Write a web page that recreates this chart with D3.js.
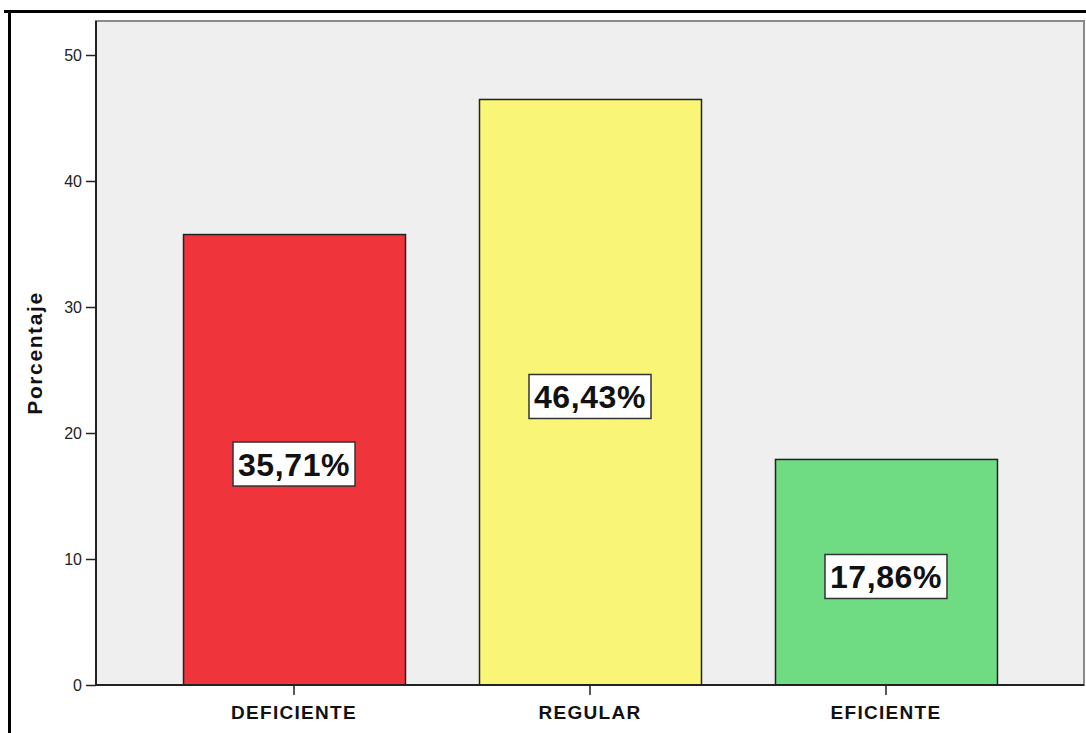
<!DOCTYPE html>
<html><head><meta charset="utf-8">
<script src="https://cdn.jsdelivr.net/npm/d3@7"></script>
<style>body{margin:0;background:#fff;} svg{display:block;}</style>
</head><body>
<svg id="chart" width="1086" height="733"></svg>
<script>
const categories = ["DEFICIENTE", "REGULAR", "EFICIENTE"];
const values = [35.71, 46.43, 17.86];
const labels = ["35,71%", "46,43%", "17,86%"];
const colors = ["#f0343b", "#f9f677", "#6fdc83"];
const yTicks = [0, 10, 20, 30, 40, 50];
const yTitle = "Porcentaje";

const svg = d3.select("#chart");
const W = 1086, H = 733;
const plot = {left: 96, right: 1084, top: 21, bottom: 685};

// outer frame (top + left black)
svg.append("line").attr("x1", 4).attr("x2", W).attr("y1", 11.5).attr("y2", 11.5).attr("stroke", "#000").attr("stroke-width", 3);
svg.append("line").attr("x1", 9.5).attr("x2", 9.5).attr("y1", 10).attr("y2", H).attr("stroke", "#000").attr("stroke-width", 3);

const x = d3.scaleBand().domain(categories).range([plot.left, plot.right]).paddingInner(0.25).paddingOuter(0.294);
const y = d3.scaleLinear().domain([0, 50]).range([plot.bottom, plot.bottom - 630]);

// plot background
svg.append("rect").attr("x", plot.left).attr("y", plot.top).attr("width", plot.right - plot.left).attr("height", plot.bottom - plot.top)
  .attr("fill", "#efefef").attr("stroke", "#8a8a8a").attr("stroke-width", 2);

// bars
svg.selectAll("rect.bar").data(values).enter().append("rect").attr("class", "bar")
  .attr("x", (d, i) => x(categories[i]) + 0.5)
  .attr("y", d => y(d) - 0.5)
  .attr("width", x.bandwidth())
  .attr("height", d => y(0) - y(d) + 0.5)
  .attr("fill", (d, i) => colors[i])
  .attr("stroke", "#222").attr("stroke-width", 1.5);

// value labels
const lg = svg.selectAll("g.lab").data(values).enter().append("g").attr("class", "lab")
  .attr("transform", (d, i) => `translate(${x(categories[i]) + x.bandwidth() / 2},${(y(d) + y(0)) / 2 + 4})`);
lg.append("rect").attr("x", -61).attr("y", -22).attr("width", 122).attr("height", 44)
  .attr("fill", "#fff").attr("stroke", "#333").attr("stroke-width", 1.5);
lg.append("text").text((d, i) => labels[i]).attr("text-anchor", "middle").attr("dy", "0.36em")
  .attr("font-family", "Liberation Sans, Arial, sans-serif").attr("font-weight", "bold").attr("font-size", 32)
  .attr("letter-spacing", 0.6).attr("fill", "#111");

// y axis
const yAxis = d3.axisLeft(y).tickValues(yTicks).tickSize(10).tickPadding(4).tickFormat(d3.format("d"));
const gy = svg.append("g").attr("transform", `translate(${plot.left},0)`).call(yAxis);
gy.select(".domain").attr("stroke", "#222").attr("stroke-width", 2).attr("d", `M0,${plot.top}V${plot.bottom}`);
gy.selectAll(".tick line").attr("stroke", "#222").attr("stroke-width", 1.5);
gy.selectAll(".tick text").attr("font-family", "Liberation Sans, Arial, sans-serif").attr("font-size", 16).attr("fill", "#222");

// x axis
const xAxis = d3.axisBottom(x).tickSize(10).tickPadding(11);
const gx = svg.append("g").attr("transform", `translate(0,${plot.bottom})`).call(xAxis);
gx.select(".domain").attr("stroke", "#222").attr("stroke-width", 2).attr("d", `M${plot.left},0H${plot.right}`);
gx.selectAll(".tick line").attr("stroke", "#222").attr("stroke-width", 1.5);
gx.selectAll(".tick text").attr("font-family", "Liberation Sans, Arial, sans-serif").attr("font-weight", "bold")
  .attr("font-size", 19).attr("letter-spacing", 1.3).attr("fill", "#111");

// y title
svg.append("text").text(yTitle).attr("transform", "translate(42,353) rotate(-90)").attr("text-anchor", "middle")
  .attr("font-family", "Liberation Sans, Arial, sans-serif").attr("font-weight", "bold").attr("font-size", 21)
  .attr("letter-spacing", 1.6).attr("fill", "#111");
</script>
</body></html>
